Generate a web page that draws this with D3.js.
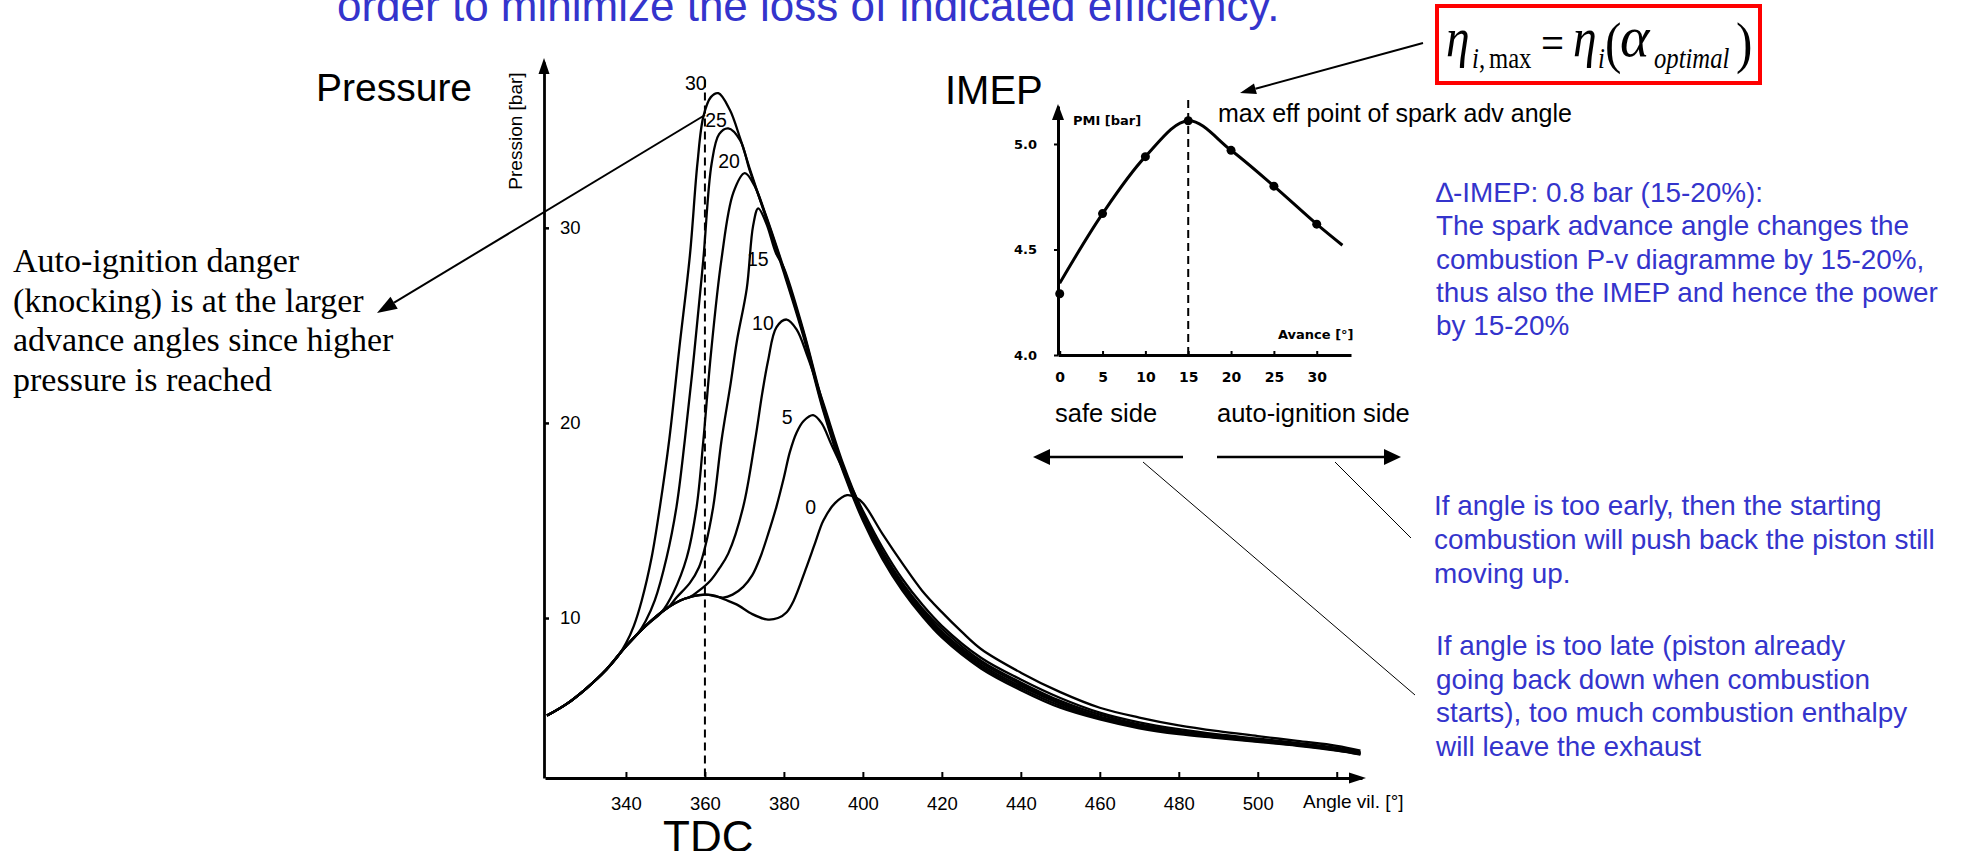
<!DOCTYPE html>
<html><head><meta charset="utf-8">
<script src="https://cdn.jsdelivr.net/npm/d3@7"></script>
<style>body{margin:0;background:#fff}</style>
</head><body><svg id="c" width="1962" height="851"></svg>
<script>
// ---------------- DATA ----------------
const angleTicks = [340, 360, 380, 400, 420, 440, 460, 480, 500, 520];
const pressureTicks = [10, 20, 30];
// common compression (motoring) line, [crank angle deg, pressure bar]
const motoring = [[320,5.0],[325,5.6],[330,6.4],[335,7.35],[340,8.55],[345,9.6],[350,10.45],[355,11.0],[360,11.2]];
// each spark-advance curve from where it leaves the compression line
const adv30 = [[338,8.05],[340,8.7],[342,9.6],[344,10.9],[346.5,13.1],[348.6,15.7],[351,19.2],[353.5,23.8],[356.2,28.6],[358.1,33.3],[359.6,35.7],[361.5,36.7],[363.4,36.9],[366.3,36.05],[368.9,34.6],[371.4,33.0],[375,30.8],[380,27.7],[385,24.4],[390,20.6],[395,17.5],[400,15.0],[405,13.0],[410,11.4],[415,10.1],[420,9.0],[430,7.4],[440,6.3],[450,5.4],[460,4.8],[470,4.35],[480,4.05],[490,3.85],[500,3.65],[510,3.45],[520,3.2],[526,3.0]];
const adv25 = [[343,9.2],[345,9.85],[347.3,10.9],[350.3,13.1],[352.8,15.7],[354.9,19.1],[357.3,23.6],[359.6,28.4],[361.7,33.3],[363.6,34.8],[365.9,35.1],[368.9,34.5],[371.4,32.9],[375,30.85],[380,27.8],[385,24.5],[390,20.7],[395,17.6],[400,15.1],[405,13.1],[410,11.5],[415,10.2],[420,9.1],[430,7.5],[440,6.4],[450,5.5],[460,4.85],[470,4.4],[480,4.1],[490,3.88],[500,3.68],[510,3.48],[520,3.22],[526,3.02]];
const adv20 = [[349,10.3],[352,11.3],[355.4,13.1],[357.9,15.7],[359.6,19.1],[361.5,23.5],[364.2,28.4],[367.2,31.8],[370.1,32.8],[372.7,32.1],[375,30.9],[380,27.9],[385,24.6],[390,20.8],[395,17.7],[400,15.2],[405,13.2],[410,11.6],[415,10.3],[420,9.2],[430,7.6],[440,6.5],[450,5.6],[460,4.9],[470,4.45],[480,4.14],[490,3.91],[500,3.71],[510,3.5],[520,3.25],[526,3.05]];
const adv15 = [[351,10.6],[352.8,11.05],[356.2,11.8],[358.5,12.6],[360,13.6],[362.1,15.7],[364.2,19.1],[366.5,22.0],[368.1,24.2],[370.6,26.9],[372.2,30.1],[373.5,31.0],[375.6,30.2],[378,28.7],[380,27.95],[385,24.7],[390,20.9],[395,17.8],[400,15.3],[405,13.3],[410,11.7],[415,10.4],[420,9.3],[430,7.7],[440,6.6],[450,5.65],[460,4.95],[470,4.5],[480,4.18],[490,3.94],[500,3.74],[510,3.53],[520,3.28],[526,3.08]];
const adv10 = [[356,11.05],[358.5,11.4],[361.3,11.9],[363.5,12.5],[365.9,13.3],[369.7,15.7],[372.7,19.1],[374.5,21.5],[376,23.2],[378.1,24.9],[380.7,25.3],[383.2,24.8],[386,23.4],[390,21.0],[395,17.9],[400,15.4],[405,13.4],[410,11.8],[415,10.5],[420,9.45],[430,7.8],[440,6.7],[450,5.75],[460,5.05],[470,4.55],[480,4.22],[490,3.97],[500,3.77],[510,3.56],[520,3.3],[526,3.1]];
const adv5 = [[363,11.1],[364.6,11.05],[367,11.2],[369.7,11.6],[372,12.2],[374,13.1],[376,14.3],[378.1,15.7],[380,17.2],[381.5,18.5],[383.2,19.5],[385,20.1],[387.4,20.4],[389.5,20.0],[392,18.9],[395,17.6],[400,15.5],[405,13.6],[410,12.0],[415,10.7],[420,9.6],[430,7.95],[440,6.85],[450,5.9],[460,5.15],[470,4.65],[480,4.3],[490,4.03],[500,3.82],[510,3.6],[520,3.35],[526,3.12]];
const adv0 = [[360,11.2],[362.5,11.15],[365,10.95],[368,10.7],[372,10.2],[375.6,9.93],[378.5,10.0],[380.7,10.3],[382.5,10.9],[385.7,12.6],[388,13.9],[390,15.0],[393,15.9],[396,16.3],[398,16.2],[400,15.9],[405,14.3],[410,12.8],[415,11.4],[420,10.3],[425,9.3],[430,8.4],[440,7.2],[450,6.2],[460,5.4],[470,4.9],[480,4.5],[490,4.2],[500,3.95],[510,3.7],[520,3.45],[526,3.2]];
const curveNames = ["30", "25", "20", "15", "10", "5", "0"];
const curveLabelAngle = [357.7, 362.8, 366.1, 373.4, 374.7, 380.8, 386.8];
const curveLabelPressure = [37.4, 35.5, 33.4, 28.4, 25.1, 20.3, 15.7];

// IMEP vs spark advance
const advanceTicks = [0, 5, 10, 15, 20, 25, 30];
const imepTicks = [4.0, 4.5, 5.0];
const imepMeasured = [4.29, 4.67, 4.94, 5.11, 4.97, 4.80, 4.62];
const imepLine = [[0,4.34],[5,4.67],[10,4.94],[15,5.11],[20,4.97],[25,4.80],[30,4.62],[33,4.52]];

// ---------------- DRAW ----------------
const svg = d3.select('#c');
svg.append('rect').attr('width',1962).attr('height',851).attr('fill','#fff');
const SANS = "'Liberation Sans', Arial, sans-serif";
const SERIF = "'Liberation Serif', 'Times New Roman', serif";
const BLUE = "#3434cc";

function txt(x, y, s, o = {}) {
  const t = svg.append('text').attr('x', x).attr('y', y).text(s)
    .attr('font-family', o.family || SANS).attr('font-size', o.size || 20)
    .attr('fill', o.fill || '#000');
  if (o.anchor) t.attr('text-anchor', o.anchor);
  if (o.weight) t.attr('font-weight', o.weight);
  if (o.style) t.attr('font-style', o.style);
  return t;
}
function arrow(x1, y1, x2, y2, len, wid, sw) {
  const a = Math.atan2(y2 - y1, x2 - x1);
  const bx = x2 - len * Math.cos(a), by = y2 - len * Math.sin(a);
  svg.append('line').attr('x1', x1).attr('y1', y1).attr('x2', bx).attr('y2', by)
    .attr('stroke', '#000').attr('stroke-width', sw);
  const px = -Math.sin(a) * wid / 2, py = Math.cos(a) * wid / 2;
  svg.append('path').attr('d', `M${x2},${y2}L${bx + px},${by + py}L${bx - px},${by - py}Z`).attr('fill', '#000');
}

// ---- main pressure chart ----
const x = d3.scaleLinear().domain([319.5, 526.4]).range([545, 1362]);
const y = d3.scaleLinear().domain([1.8, 38.5]).range([778, 62]);

const gx = svg.append('g').attr('transform', 'translate(0,778)')
  .call(d3.axisBottom(x).tickValues(angleTicks).tickSize(-6).tickSizeOuter(0).tickPadding(19)
    .tickFormat(d => d === 520 ? '' : d));
gx.select('.domain').attr('stroke-width', 2.8);
gx.selectAll('.tick line').attr('stroke-width', 2);
gx.selectAll('.tick text').attr('font-family', SANS).attr('font-size', 18.5).attr('fill', '#000');

const gy = svg.append('g').attr('transform', 'translate(544,0)')
  .call(d3.axisRight(y).tickValues(pressureTicks).tickSize(5).tickSizeOuter(0).tickPadding(11));
gy.select('.domain').attr('stroke-width', 2.8);
gy.selectAll('.tick line').attr('stroke-width', 2.5);
gy.selectAll('.tick text').attr('font-family', SANS).attr('font-size', 18.5).attr('fill', '#000');

svg.append('path').attr('d', 'M544,58L538.5,74L549.5,74Z').attr('fill', '#000');
svg.append('path').attr('d', 'M1366,778L1349,772.5L1349,783.5Z').attr('fill', '#000');

// TDC dashed line
svg.append('line').attr('x1', x(360)).attr('x2', x(360)).attr('y1', y(37.6)).attr('y2', 778)
  .attr('stroke', '#000').attr('stroke-width', 2).attr('stroke-dasharray', '8,5');

const line = d3.line().x(d => x(d[0])).y(d => y(d[1])).curve(d3.curveCatmullRom.alpha(0.5));
[adv0, adv5, adv10, adv15, adv20, adv25, adv30].forEach(c => {
  const pts = motoring.filter(d => d[0] < c[0][0]).concat(c);
  svg.append('path').attr('d', line(pts)).attr('fill', 'none').attr('stroke', '#000').attr('stroke-width', 2.3);
});
curveNames.forEach((n, i) => {
  txt(x(curveLabelAngle[i]), y(curveLabelPressure[i]), n, {size: 19.5, anchor: 'middle'}).attr('dy', '0.35em');
});

txt(545 - 23, 131, 'Pression [bar]', {size: 19}).attr('text-anchor', 'middle')
  .attr('transform', 'rotate(-90,522,131)');
txt(1303, 808, 'Angle vil. [°]', {size: 19});
txt(316, 101, 'Pressure', {size: 39});
txt(663, 852, 'TDC', {size: 44});

// ---- IMEP chart ----
const xi = d3.scaleLinear().domain([-0.2, 34]).range([1058, 1351]);
const yi = d3.scaleLinear().domain([4.0, 5.18]).range([355, 106]);
const DV = "'DejaVu Sans', sans-serif";
const gxi = svg.append('g').attr('transform', 'translate(0,355)')
  .call(d3.axisBottom(xi).tickValues(advanceTicks).tickSize(-4).tickSizeOuter(0).tickPadding(17));
gxi.select('.domain').attr('stroke-width', 3);
gxi.selectAll('.tick line').attr('stroke-width', 2);
gxi.selectAll('.tick text').attr('font-family', DV).attr('font-weight', 'bold').attr('font-size', 14).attr('fill', '#000');
const gyi = svg.append('g').attr('transform', 'translate(1058,0)')
  .call(d3.axisLeft(yi).tickValues(imepTicks).tickSize(4).tickSizeOuter(0).tickPadding(17).tickFormat(d3.format('.1f')));
gyi.select('.domain').attr('stroke-width', 3);
gyi.selectAll('.tick line').attr('stroke-width', 2);
gyi.selectAll('.tick text').attr('font-family', DV).attr('font-weight', 'bold').attr('font-size', 13).attr('fill', '#000');
svg.append('path').attr('d', 'M1058,104L1052,120L1064,120Z').attr('fill', '#000');

svg.append('line').attr('x1', xi(15)).attr('x2', xi(15)).attr('y1', 100).attr('y2', 355)
  .attr('stroke', '#000').attr('stroke-width', 2).attr('stroke-dasharray', '8,5');
const lineI = d3.line().x(d => xi(d[0])).y(d => yi(d[1])).curve(d3.curveCatmullRom.alpha(0.5));
svg.append('path').attr('d', lineI(imepLine)).attr('fill', 'none').attr('stroke', '#000').attr('stroke-width', 3);
advanceTicks.forEach((a, i) => {
  svg.append('circle').attr('cx', xi(a)).attr('cy', yi(imepMeasured[i])).attr('r', 4.5).attr('fill', '#000');
});
txt(1073, 125, 'PMI [bar]', {family: DV, weight: 'bold', size: 13});
txt(1278, 339, 'Avance [°]', {family: DV, weight: 'bold', size: 13});
txt(945, 104, 'IMEP', {size: 40});

// ---- annotations ----
txt(337, 21, 'order to minimize the loss of indicated efficiency.', {size: 44, fill: BLUE});

txt(1218, 122, 'max eff point of spark adv angle', {size: 25});
txt(1055, 422, 'safe side', {size: 25.5});
txt(1217, 422, 'auto-ignition side', {size: 25.5});
arrow(1183, 457, 1033, 457, 17, 16, 2.5);
arrow(1217, 457, 1401, 457, 17, 16, 2.5);
svg.append('line').attr('x1', 1143).attr('y1', 462).attr('x2', 1415).attr('y2', 695).attr('stroke', '#000').attr('stroke-width', 1);
svg.append('line').attr('x1', 1335).attr('y1', 462).attr('x2', 1411).attr('y2', 538).attr('stroke', '#000').attr('stroke-width', 1);

arrow(705, 115, 377, 313, 20, 14, 2);
arrow(1423, 43, 1240, 93, 16, 11, 2);

// formula box
svg.append('rect').attr('x', 1437).attr('y', 6).attr('width', 323).attr('height', 77)
  .attr('fill', '#fff').attr('stroke', '#ff0000').attr('stroke-width', 4);
function ftxt(xx, yy, s, size, it, sx) {
  svg.append('text').attr('transform', `translate(${xx},${yy}) scale(${sx || 0.85},1)`).text(s)
    .attr('font-family', SERIF).attr('font-size', size).attr('font-style', it ? 'italic' : 'normal').attr('fill', '#000');
}
ftxt(1446, 56, 'η', 56, true);
ftxt(1472, 68, 'i', 29, true);
ftxt(1479, 68, ',', 29, false);
ftxt(1489, 68, 'max', 29, false);
ftxt(1541, 59, '=', 48, false);
ftxt(1573, 56, 'η', 56, true);
ftxt(1598, 68, 'i', 29, true);
ftxt(1605, 62, '(', 58, false);
ftxt(1620, 56, 'α', 56, true, 1);
ftxt(1654, 68, 'optimal', 29, true);
ftxt(1736, 62, ')', 58, false);

// left black text
['Auto-ignition danger', '(knocking) is at the larger', 'advance angles since higher', 'pressure is reached']
  .forEach((s, i) => txt(13, 272 + i * 39.5, s, {family: SERIF, size: 34}));

// blue text blocks
['∆-IMEP: 0.8 bar (15-20%):', 'The spark advance angle changes the', 'combustion P-v diagramme by 15-20%,',
 'thus also the IMEP and hence the power', 'by 15-20%']
  .forEach((s, i) => txt(1436, 202 + i * 33.3, s, {size: 27.9, fill: BLUE}));
['If angle is too early, then the starting', 'combustion will push back the piston still', 'moving up.']
  .forEach((s, i) => txt(1434, 515 + i * 34, s, {size: 27.9, fill: BLUE}));
['If angle is too late (piston already', 'going back down when combustion', 'starts), too much combustion enthalpy', 'will leave the exhaust']
  .forEach((s, i) => txt(1436, 655 + i * 33.6, s, {size: 27.9, fill: BLUE}));
</script></body></html>
